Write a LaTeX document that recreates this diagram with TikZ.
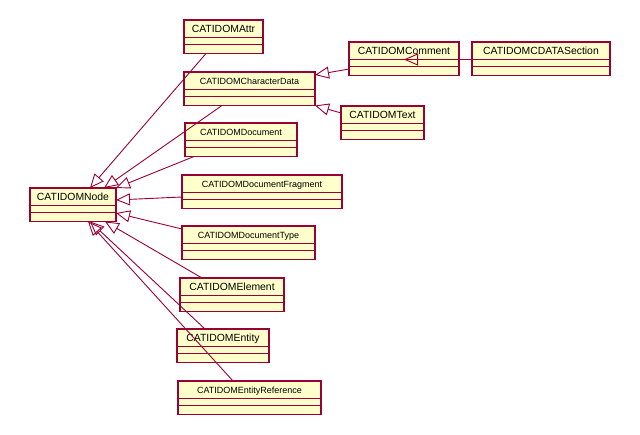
\documentclass[tikz,border=0pt]{standalone}
\usepackage{fontspec}
\setmainfont{Liberation Sans}
\usetikzlibrary{arrows.meta}

\definecolor{umlred}{RGB}{153,0,51}
\definecolor{umlfill}{RGB}{255,255,204}

\tikzset{
  umlclass/.style={draw=umlred, fill=umlfill, line width=1.5pt, anchor=north west,
    inner sep=0pt, outer sep=0pt, minimum height=33.5pt, text height=12.5pt, text depth=21pt},
  bigname/.style={umlclass, font=\fontsize{10.4}{12}\selectfont},
  smallname/.style={umlclass, font=\fontsize{9}{11}\selectfont},
  umlsep/.style={umlred, line width=1.5pt},
  inherit/.style={umlred, line width=0.9pt, -{Triangle[open, length=14pt, width=12pt]}}
}

\begin{document}
\begin{tikzpicture}[x=1pt, y=-1pt]
\useasboundingbox (0,0) rectangle (640,435);

\node[bigname, minimum width=79pt] (attr) at (184,20) {CATIDOMAttr};
\node[smallname, minimum width=131pt] (chardata) at (184,72) {CATIDOMCharacterData};
\node[smallname, minimum width=112pt] (document) at (185,123) {CATIDOMDocument};
\node[bigname, minimum width=110pt] (comment) at (349,42) {CATIDOMComment};
\node[bigname, minimum width=138pt] (cdata) at (472,42) {CATIDOMCDATASection};
\node[bigname, minimum width=83pt] (text) at (341,106) {CATIDOMText};
\node[bigname, minimum width=86pt] (node) at (30,188) {CATIDOMNode};
\node[smallname, minimum width=160pt] (fragment) at (182,175) {CATIDOMDocumentFragment};
\node[smallname, minimum width=133pt] (doctype) at (182,226) {CATIDOMDocumentType};
\node[bigname, minimum width=104pt] (element) at (180,278) {CATIDOMElement};
\node[bigname, minimum width=92pt] (entity) at (177,329) {CATIDOMEntity};
\node[smallname, minimum width=143pt] (entref) at (178,381) {CATIDOMEntityReference};

\foreach \n in {attr,chardata,document,comment,cdata,text,node,fragment,doctype,element,entity,entref}{
  \draw[umlsep] ([yshift=-17.5pt]\n.north west) -- ([yshift=-17.5pt]\n.north east);
  \draw[umlsep] ([yshift=-24.5pt]\n.north west) -- ([yshift=-24.5pt]\n.north east);
}

\draw[inherit] ([xshift=22pt]attr.south west) -- ([xshift=60pt]node.north west);
\draw[inherit] ([xshift=38pt]chardata.south west) -- ([xshift=74pt]node.north west);
\draw[inherit] ([xshift=9pt]document.south west) -- (node.north east);
\draw[inherit] ([yshift=-22pt]fragment.north west) -- ([yshift=-12pt]node.north east);
\draw[inherit] ([yshift=-3pt]doctype.north west) -- ([yshift=-25pt]node.north east);
\draw[inherit] ([xshift=22pt]element.north west) -- ([xshift=75pt]node.south west);
\draw[inherit] ([xshift=28pt]entity.north west) -- ([xshift=60pt]node.south west);
\draw[inherit] ([xshift=55pt]entref.north west) -- ([xshift=58pt]node.south west);

\draw[inherit] ([yshift=-27pt]comment.north west) -- ([yshift=-3pt]chardata.north east);
\draw[inherit] ([yshift=-7pt]text.north west) -- (chardata.south east);
\draw[inherit] ([yshift=-17.5pt]cdata.north west) -- ([xshift=55pt, yshift=-17.5pt]comment.north west);

\end{tikzpicture}
\end{document}
